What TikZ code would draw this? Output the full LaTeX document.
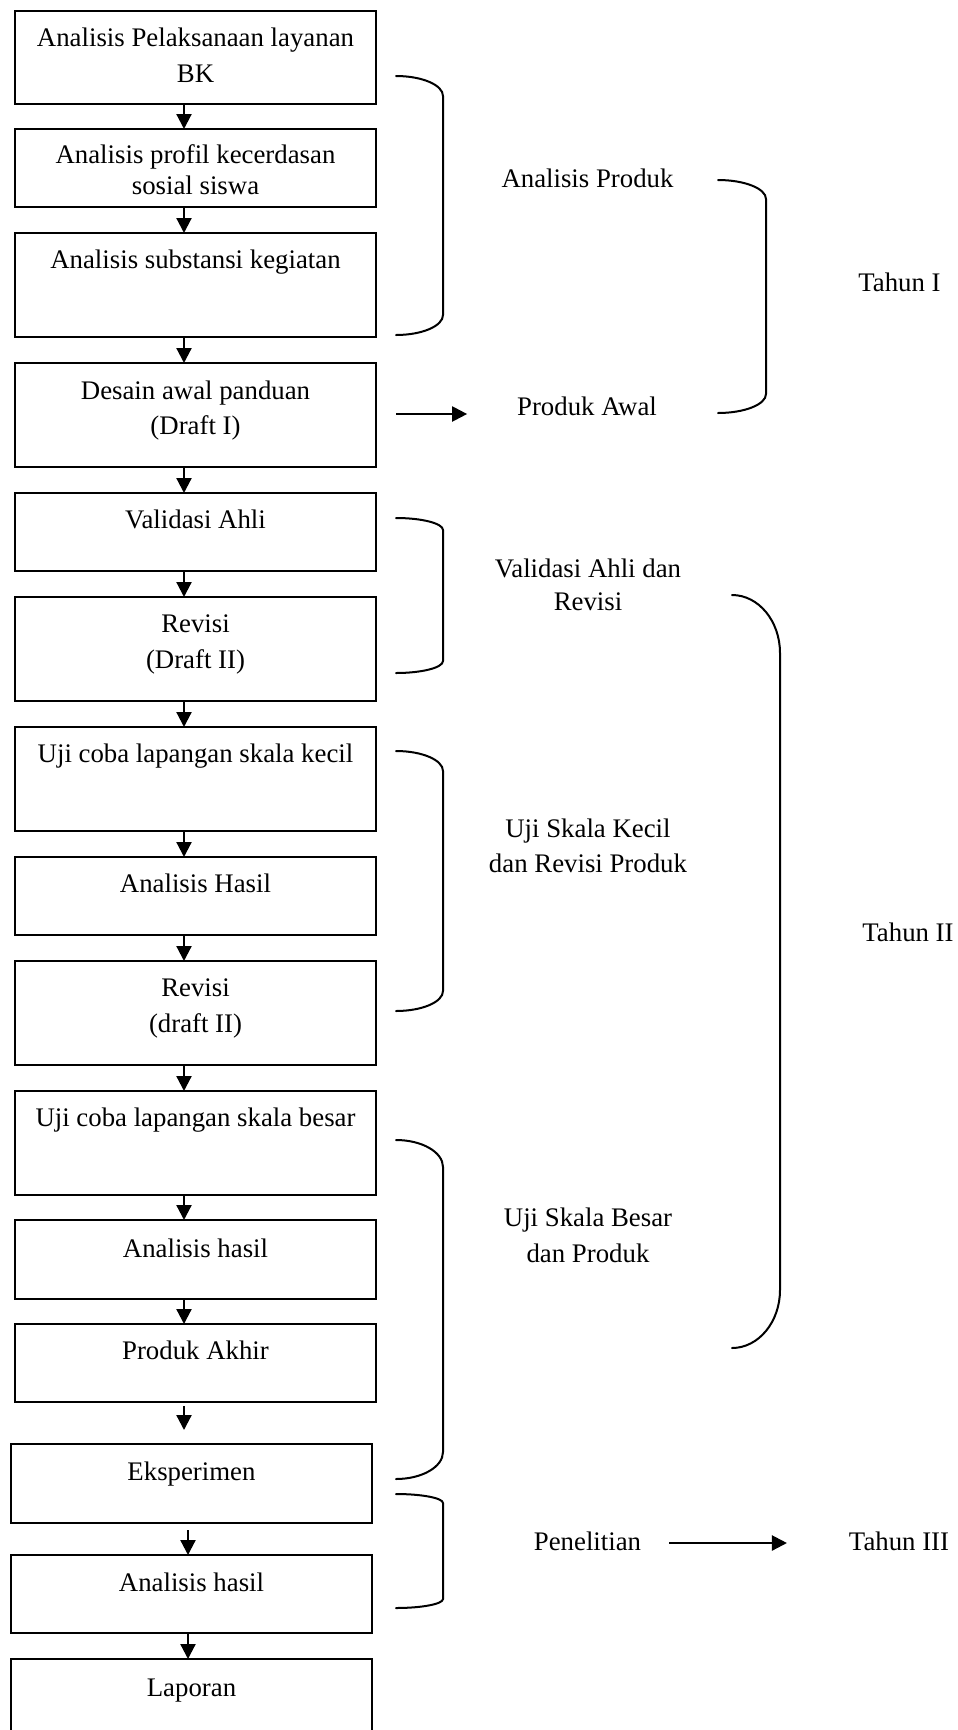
\documentclass[tikz,border=0pt]{standalone}
\usepackage{fontspec}
\setmainfont{Liberation Serif}
\usetikzlibrary{arrows.meta,calc}
\newcommand\brk[5]{%
  \draw[brc] (#1,#3) .. controls ({#1+0.552*(#2-#1)},#3) and (#2,{#3+0.448*#5}) .. (#2,{#3+#5})
    -- (#2,{#4-#5}) .. controls (#2,{#4-0.448*#5}) and ({#1+0.552*(#2-#1)},#4) .. (#1,#4);}
\begin{document}
\begin{tikzpicture}[x=1pt,y=-1pt,
  font=\fontsize{26.8pt}{31pt}\selectfont,
  boxu/.style={draw, line width=2.2pt, rectangle, inner sep=0pt, outer sep=0pt, minimum width=361pt, anchor=north west},
  lbl/.style={anchor=base, inner sep=0pt, outer sep=0pt},
  arr/.style={line width=2.2pt, -{Triangle[width=15pt,length=15pt]}},
  brc/.style={line width=2pt, line cap=round}]
\clip (0,0) rectangle (958,1730);
\fill[white] (0,0) rectangle (958,1730);
% boxes
\node[boxu, minimum height=93pt]  (b1)  at (15,11)   {};
\node[boxu, minimum height=78pt]  (b2)  at (15,129)  {};
\node[boxu, minimum height=104pt] (b3)  at (15,233)  {};
\node[boxu, minimum height=104pt] (b4)  at (15,363)  {};
\node[boxu, minimum height=78pt]  (b5)  at (15,493)  {};
\node[boxu, minimum height=104pt] (b6)  at (15,597)  {};
\node[boxu, minimum height=104pt] (b7)  at (15,727)  {};
\node[boxu, minimum height=78pt]  (b8)  at (15,857)  {};
\node[boxu, minimum height=104pt] (b9)  at (15,961)  {};
\node[boxu, minimum height=104pt] (b10) at (15,1091) {};
\node[boxu, minimum height=79pt]  (b11) at (15,1220) {};
\node[boxu, minimum height=78pt]  (b12) at (15,1324) {};
\node[boxu, minimum height=79pt]  (b13) at (11,1444) {};
\node[boxu, minimum height=78pt]  (b14) at (11,1555) {};
\node[boxu, minimum height=110pt] (b15) at (11,1659) {};
% box texts
\node[lbl] (t1a) at ([yshift=-35pt]b1.north) {Analisis Pelaksanaan layanan};
\node[lbl] (t1b) at ([yshift=-71pt]b1.north) {BK};
\node[lbl] (t2a) at ([yshift=-34pt]b2.north) {Analisis profil kecerdasan};
\node[lbl] (t2b) at ([yshift=-65pt]b2.north) {sosial siswa};
\node[lbl] (t3a) at ([yshift=-35pt]b3.north) {Analisis substansi kegiatan};
\node[lbl] (t4a) at ([yshift=-36pt]b4.north) {Desain awal panduan};
\node[lbl] (t4b) at ([yshift=-71pt]b4.north) {(Draft I)};
\node[lbl] (t5a) at ([yshift=-35pt]b5.north) {Validasi Ahli};
\node[lbl] (t6a) at ([yshift=-35pt]b6.north) {Revisi};
\node[lbl] (t6b) at ([yshift=-71pt]b6.north) {(Draft II)};
\node[lbl] (t7a) at ([yshift=-35pt]b7.north) {Uji coba lapangan skala kecil};
\node[lbl] (t8a) at ([yshift=-35pt]b8.north) {Analisis Hasil};
\node[lbl] (t9a) at ([yshift=-35pt]b9.north) {Revisi};
\node[lbl] (t9b) at ([yshift=-71pt]b9.north) {(draft II)};
\node[lbl] (t10a) at ([yshift=-35pt]b10.north) {Uji coba lapangan skala besar};
\node[lbl] (t11a) at ([yshift=-37pt]b11.north) {Analisis hasil};
\node[lbl] (t12a) at ([yshift=-35pt]b12.north) {Produk Akhir};
\node[lbl] (t13a) at ([yshift=-36pt]b13.north) {Eksperimen};
\node[lbl] (t14a) at ([yshift=-36pt]b14.north) {Analisis hasil};
\node[lbl] (t15a) at ([yshift=-37pt]b15.north) {Laporan};
% vertical arrows
\foreach \a/\b in {b1/b2,b2/b3,b3/b4,b4/b5,b5/b6,b6/b7,b7/b8,b8/b9,b9/b10,b10/b11,b11/b12}
  \draw[arr] ([xshift=-11.5pt]\a.south) -- ([xshift=-11.5pt]\b.north);
\draw[arr, shorten <=4pt, shorten >=14pt] ([xshift=-11.5pt]b12.south) -- ([xshift=-7.5pt]b13.north);
\draw[arr, shorten <=7pt] ([xshift=-3.5pt]b13.south) -- ([xshift=-3.5pt]b14.north);
\draw[arr] ([xshift=-3.5pt]b14.south) -- ([xshift=-3.5pt]b15.north);
% right-side labels
\node[lbl] (ap)  at (587.5,187.7) {Analisis Produk};
\node[lbl] (pa)  at (587,415)     {Produk Awal};
\node[lbl] (th1) at (899.5,291.7) {Tahun I};
\node[lbl] (va1) at (588,577.3)   {Validasi Ahli dan};
\node[lbl] (va2) at (588,610)     {Revisi};
\node[lbl] (uk1) at (588,837.3)   {Uji Skala Kecil};
\node[lbl] (uk2) at (588,872.7)   {dan Revisi Produk};
\node[lbl] (th2) at (908,941.7)   {Tahun II};
\node[lbl] (ub1) at (588,1226.7)  {Uji Skala Besar};
\node[lbl] (ub2) at (588,1262.7)  {dan Produk};
\node[lbl] (pen) at (587.5,1550)  {Penelitian};
\node[lbl] (th3) at (899,1550)    {Tahun III};
% horizontal arrows
\coordinate (h1s) at (396,414);
\draw[arr, shorten >=50pt] (h1s) -- (h1s -| pa.west);
\draw[arr, shorten <=28pt, shorten >=62pt] ([yshift=7pt]pen.base east) -- ([yshift=7pt]th3.base west);
% brackets
\brk{396}{443}{76}{335}{20}
\brk{396}{443}{518}{673}{12}
\brk{396}{443}{751}{1011}{20}
\brk{396}{443}{1140}{1479}{27}
\brk{396}{443}{1494}{1608}{9}
\brk{718}{766}{180}{413}{19}
\brk{732}{780}{595}{1348}{58}
\end{tikzpicture}
\end{document}
